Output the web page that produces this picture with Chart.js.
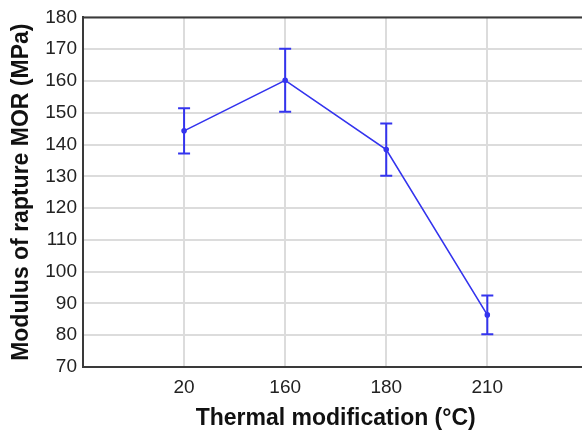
<!DOCTYPE html>
<html>
<head>
<meta charset="utf-8">
<script src="https://cdn.jsdelivr.net/npm/chart.js@4"></script>
<style>
  html, body { margin: 0; padding: 0; background: #fff; overflow: hidden; }
  #wrap { width: 582px; height: 436px; overflow: hidden; }
</style>
</head>
<body>
<div id="wrap"><canvas id="chart" width="592" height="436"></canvas></div>
<script>
// treatment temperatures (°C) and MOR means with their error bar half-widths
const temperatures = ['20', '160', '180', '210']
const morMeans = [144.3, 160.2, 138.4, 86.4]
const morErrors = [7.1, 9.9, 8.2, 6.1]
const yTicks = [70, 80, 90, 100, 110, 120, 130, 140, 150, 160, 170, 180]

const lineBlue = 'rgb(52, 52, 238)'
const axisColor = '#3a3a3a'

const points = morMeans.map((v, i) => ({ x: i + 1, y: v }))

const errorBars = {
  id: 'errorBars',
  afterDatasetsDraw(chart) {
    const { ctx, scales } = chart
    const cap = 6
    ctx.save()
    ctx.strokeStyle = lineBlue
    ctx.lineWidth = 2
    morMeans.forEach((v, i) => {
      const x = scales.x.getPixelForValue(i + 1)
      const top = scales.y.getPixelForValue(v + morErrors[i])
      const bottom = scales.y.getPixelForValue(v - morErrors[i])
      ctx.beginPath()
      ctx.moveTo(x, top)
      ctx.lineTo(x, bottom)
      ctx.moveTo(x - cap, top)
      ctx.lineTo(x + cap, top)
      ctx.moveTo(x - cap, bottom)
      ctx.lineTo(x + cap, bottom)
      ctx.stroke()
    })
    ctx.restore()
  },
}

// frame line along the top of the plot
const topBorder = {
  id: 'topBorder',
  afterDraw(chart) {
    const { ctx, chartArea } = chart
    ctx.save()
    ctx.strokeStyle = axisColor
    ctx.lineWidth = 2
    ctx.beginPath()
    ctx.moveTo(chartArea.left - 1, chartArea.top)
    ctx.lineTo(chartArea.right, chartArea.top)
    ctx.stroke()
    ctx.restore()
  },
}

new Chart(document.getElementById('chart'), {
  type: 'line',
  data: {
    datasets: [
      {
        data: points,
        borderColor: lineBlue,
        backgroundColor: lineBlue,
        borderWidth: 1.6,
        pointRadius: 2,
        pointHoverRadius: 2,
        tension: 0,
      },
    ],
  },
  plugins: [errorBars, topBorder],
  options: {
    responsive: false,
    animation: false,
    events: [],
    layout: { padding: { top: 15, right: 0, left: 8, bottom: 0 } },
    plugins: { legend: { display: false }, tooltip: { enabled: false } },
    scales: {
      x: {
        type: 'linear',
        min: 0,
        max: 5,
        afterBuildTicks: (scale) => {
          scale.ticks = temperatures.map((_, i) => ({ value: i + 1 }))
        },
        afterFit: (scale) => {
          scale.height = 69
        },
        ticks: {
          padding: 9,
          color: '#222',
          font: { family: 'Liberation Sans, Arial', size: 19 },
          callback: (value) => temperatures[value - 1],
        },
        grid: { color: '#dcdcdc', lineWidth: 2, drawTicks: false },
        border: { color: axisColor, width: 2 },
        title: {
          display: true,
          text: 'Thermal modification (°C)',
          color: '#111',
          font: { family: 'Liberation Sans, Arial', size: 23, weight: 'bold' },
          padding: { top: 2 },
        },
      },
      y: {
        min: 70,
        max: 180,
        afterBuildTicks: (scale) => {
          scale.ticks = yTicks.map((v) => ({ value: v }))
        },
        afterFit: (scale) => {
          scale.width = 75
        },
        ticks: {
          padding: 6,
          color: '#222',
          font: { family: 'Liberation Sans, Arial', size: 19 },
        },
        grid: { color: '#dcdcdc', lineWidth: 2, drawTicks: false },
        border: { color: axisColor, width: 2 },
        title: {
          display: true,
          text: 'Modulus of rapture MOR (MPa)',
          color: '#111',
          font: { family: 'Liberation Sans, Arial', size: 23, weight: 'bold' },
          padding: 0,
        },
      },
    },
  },
})
</script>
</body>
</html>
